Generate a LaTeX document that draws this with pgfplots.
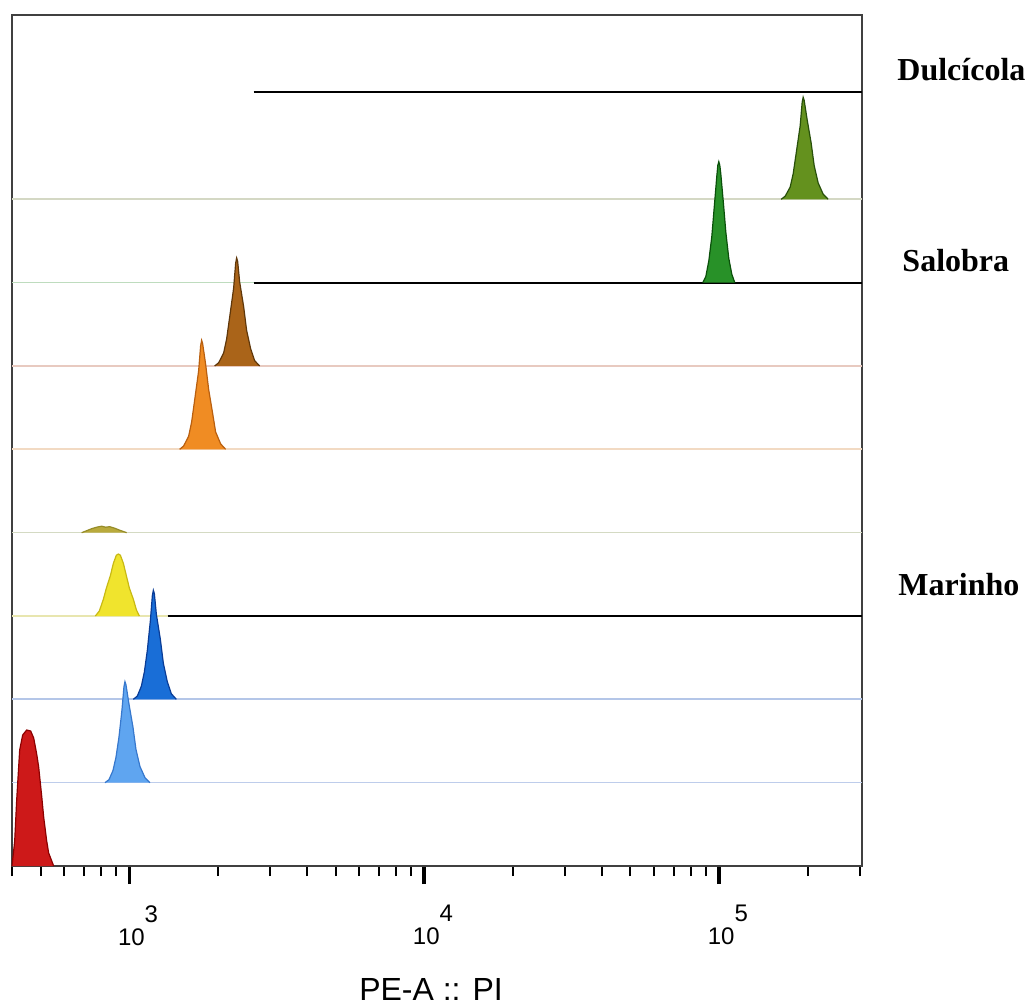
\documentclass[border=0pt]{standalone}
\usepackage{fontspec}
\setmainfont{Liberation Serif}
\setsansfont{Liberation Sans}
\usepackage{pgfplots}
\pgfplotsset{compat=1.18}
\definecolor{redF}{RGB}{205,25,25}\definecolor{redD}{RGB}{140,0,0}
\definecolor{lbF}{RGB}{95,165,240}\definecolor{lbD}{RGB}{55,120,205}
\definecolor{bF}{RGB}{25,110,215}\definecolor{bD}{RGB}{10,60,150}
\definecolor{yF}{RGB}{240,228,45}\definecolor{yD}{RGB}{200,185,20}
\definecolor{olF}{RGB}{185,170,60}\definecolor{olD}{RGB}{150,140,40}
\definecolor{oF}{RGB}{240,140,35}\definecolor{oD}{RGB}{185,95,15}
\definecolor{brF}{RGB}{170,100,25}\definecolor{brD}{RGB}{95,55,10}
\definecolor{dgF}{RGB}{40,145,40}\definecolor{dgD}{RGB}{10,80,10}
\definecolor{ogF}{RGB}{100,145,30}\definecolor{ogD}{RGB}{40,80,10}
\definecolor{blLB}{RGB}{190,205,235}
\definecolor{blB}{RGB}{180,198,232}
\definecolor{blY}{RGB}{232,230,175}
\definecolor{blK}{RGB}{212,218,195}
\definecolor{blO}{RGB}{242,218,195}
\definecolor{blP}{RGB}{232,202,192}
\definecolor{blG}{RGB}{190,220,190}
\definecolor{blK2}{RGB}{212,216,196}
\begin{document}
\begin{tikzpicture}
\path[use as bounding box] (-6pt,-69.5pt) rectangle (510pt,433pt);
\begin{axis}[
  at={(0,0)}, anchor=south west,
  width=425pt, height=425.5pt, scale only axis,
  xmode=log, xmin=400, xmax=3.05e5, ymin=0, ymax=851,
  clip=false,
  ytick=\empty,
  xtick={1000,10000,100000},
  xticklabels={10\rlap{\raisebox{11.5pt}{3}},10\rlap{\raisebox{11.5pt}{4}},10\rlap{\raisebox{11.5pt}{5}}},
  minor xtick={400,500,600,700,800,900,2000,3000,4000,5000,6000,7000,8000,9000,20000,30000,40000,50000,60000,70000,80000,90000,200000,300000},
  xtick pos=bottom,
  tick align=outside,
  major tick length=9pt, minor tick length=5pt,
  every major tick/.append style={line width=1.8pt, black},
  every minor tick/.append style={line width=1pt, black},
  axis line style={line width=1pt, draw=black!75},
  xticklabel style={font=\sffamily\fontsize{12}{14}\selectfont, anchor=north, inner sep=0pt, yshift=-10.5pt, xshift=1pt},
  xlabel={PE-A :: PI},
  xlabel style={font=\sffamily\fontsize{16}{19}\selectfont, at={(axis description cs:0.5,0)}, anchor=base, yshift=-67pt, xshift=-3pt, inner sep=0pt},
]
% lane baselines
\addplot[blLB, line width=0.8pt] coordinates {(400,83.3) (3.05e5,83.3)};
\addplot[blB, line width=0.8pt] coordinates {(400,166.7) (3.05e5,166.7)};
\addplot[blY, line width=0.8pt] coordinates {(400,250) (3.05e5,250)};
\addplot[blK, line width=0.8pt] coordinates {(400,333.3) (3.05e5,333.3)};
\addplot[blO, line width=0.8pt] coordinates {(400,416.7) (3.05e5,416.7)};
\addplot[blP, line width=0.8pt] coordinates {(400,500) (3.05e5,500)};
\addplot[blG, line width=0.8pt] coordinates {(400,583.3) (3.05e5,583.3)};
\addplot[blK2, line width=0.8pt] coordinates {(400,666.7) (3.05e5,666.7)};
% group markers
\addplot[black, line width=1pt] coordinates {(2638,774) (3.05e5,774)};
\addplot[black, line width=1pt] coordinates {(2638,583.3) (3.05e5,583.3)};
\addplot[black, line width=1pt] coordinates {(1348,250) (3.05e5,250)};
% histograms
\addplot[fill=redF, draw=redD, line width=0.6pt] coordinates {(400,0) (408.5,25) (414.9,66) (424.7,116) (434.8,131) (448.6,136) (462.8,135) (473.8,128) (485.0,112) (492.6,99) (504.3,70) (512.2,49) (524.4,25) (532.6,13) (553.8,0)};
\addplot[fill=lbF, draw=lbD, line width=0.6pt] coordinates {(826.6,83.3) (852.8,86.3) (879.8,95.4) (900.7,108.6) (922.0,128.8) (943.8,156.0) (958.7,179.3) (966.2,184.3) (973.8,181.3) (996.8,162.1) (1028.5,138.9) (1052.8,116.6) (1086.2,99.5) (1129.4,88.4) (1174.4,83.3)};
\addplot[fill=bF, draw=bD, line width=0.6pt] coordinates {(1031.7,166.7) (1064.4,170.0) (1098.2,179.8) (1124.2,194.0) (1150.8,215.8) (1178.1,245.2) (1196.6,270.3) (1206.0,275.7) (1215.5,272.4) (1234.6,251.7) (1273.7,226.7) (1303.9,202.7) (1345.2,184.1) (1387.9,172.2) (1443.1,166.7)};
\addplot[fill=yF, draw=yD, line width=0.6pt] coordinates {(766.9,250) (791.2,255.0) (816.3,266.7) (835.7,277.9) (862.1,290.3) (882.6,302.7) (903.5,310.8) (917.7,312.0) (932.1,310.8) (954.2,302.7) (976.8,290.3) (1000.0,277.9) (1031.7,266.7) (1056.1,256.2) (1081.1,250)};
\addplot[fill=olF, draw=olD, line width=0.6pt] coordinates {(689.1,333.3) (716.6,335.3) (745.0,337.3) (774.7,338.8) (805.6,339.8) (831.1,338.8) (857.5,339.3) (891.6,337.8) (927.1,335.8) (979.2,333.3)};
\addplot[fill=oF, draw=oD, line width=0.6pt] coordinates {(1480.9,416.7) (1527.8,420.0) (1588.7,429.8) (1626.3,444.0) (1664.8,465.8) (1717.6,495.2) (1744.6,520.3) (1758.3,525.7) (1772.1,522.4) (1814.1,501.7) (1857.0,476.7) (1915.9,452.7) (1961.3,434.1) (2039.4,422.1) (2120.5,416.7)};
\addplot[fill=brF, draw=brD, line width=0.6pt] coordinates {(1946.0,500) (2007.7,503.2) (2087.7,513.0) (2137.1,527.0) (2187.7,548.6) (2257.1,577.8) (2292.6,602.6) (2310.6,608) (2328.7,604.8) (2365.4,584.2) (2440.4,559.4) (2498.2,535.6) (2577.4,517.3) (2659.1,505.4) (2764.9,500)};
\addplot[fill=dgF, draw=dgD, line width=0.6pt] coordinates {(87986,583.3) (90070,589.4) (92205,605.1) (94389,629.3) (95875,653.5) (98146,689.8) (98915,700.7) (99690,704.3) (100472,700.7) (101258,692.2) (103657,658.3) (105288,634.1) (107782,607.5) (110336,591.8) (112949,583.3)};
\addplot[fill=ogF, draw=ogD, line width=0.6pt] coordinates {(162245,666.7) (167389,669.8) (174054,678.9) (178177,692.2) (182397,712.6) (188180,740.1) (191143,763.6) (192640,768.7) (194150,765.6) (198749,746.3) (205052,722.8) (209908,700.4) (216566,683.0) (225185,671.8) (234146,666.7)};
% group labels
\node[anchor=base west, inner sep=0pt, font=\bfseries\fontsize{16}{19}\selectfont] at (axis description cs:1.0412,0.9228) {Dulcícola};
\node[anchor=base west, inner sep=0pt, font=\bfseries\fontsize{16}{19}\selectfont] at (axis description cs:1.0471,0.6984) {Salobra};
\node[anchor=base west, inner sep=0pt, font=\bfseries\fontsize{16}{19}\selectfont] at (axis description cs:1.0424,0.3173) {Marinho};
\end{axis}
\end{tikzpicture}
\end{document}
